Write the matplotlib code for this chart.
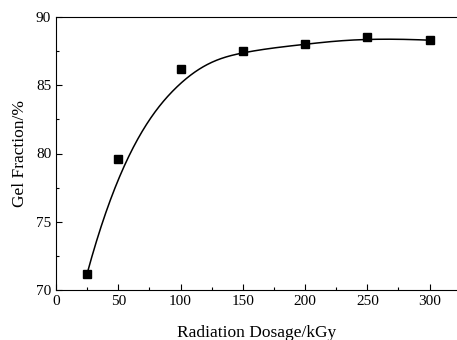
import numpy as np
import matplotlib
matplotlib.use("Agg")
import matplotlib.pyplot as plt
from matplotlib.ticker import MultipleLocator

dose = [25, 50, 100, 150, 200, 250, 300]
gel = [71.2, 79.6, 86.2, 87.5, 88.0, 88.5, 88.3]

plt.rcParams['font.family'] = ['Liberation Serif']
fig = plt.figure(figsize=(4.57, 3.4), dpi=100)
W, H = 457, 340
ax = fig.add_axes([56 / W, 1 - 290 / H, (457 - 56) / W, (290 - 17) / H])


def bspline(px, py, k=3, num=400):
    """Clamped uniform B-spline with the data points as control points."""
    P = np.column_stack([px, py]).astype(float)
    n = len(P)
    inner = np.arange(1, n - k)
    t = np.concatenate([np.zeros(k + 1), inner, np.full(k + 1, n - k)]).astype(float)
    us = np.linspace(0, n - k, num)
    out = []
    for u in us:
        # Cox-de Boor
        N = np.zeros(len(t) - 1)
        for i in range(len(t) - 1):
            if t[i] <= u < t[i + 1] or (u == t[-1] and t[i] < u <= t[i + 1]):
                N[i] = 1.0
        for d in range(1, k + 1):
            Nn = np.zeros(len(t) - 1 - d)
            for i in range(len(Nn)):
                a = 0.0
                if t[i + d] != t[i]:
                    a = (u - t[i]) / (t[i + d] - t[i]) * N[i]
                b = 0.0
                if t[i + d + 1] != t[i + 1]:
                    b = (t[i + d + 1] - u) / (t[i + d + 1] - t[i + 1]) * N[i + 1]
                Nn[i] = a + b
            N = Nn
        out.append(N[:n] @ P)
    out = np.array(out)
    return out[:, 0], out[:, 1]


cx, cy = bspline(dose, gel)
ax.plot(cx, cy, color='black', lw=1.1)
ax.plot(dose, gel, 's', color='black', ms=5.5)

ax.set_xlim(0, 322)
ax.set_ylim(70, 90)
ax.xaxis.set_major_locator(MultipleLocator(50))
ax.xaxis.set_minor_locator(MultipleLocator(25))
ax.yaxis.set_major_locator(MultipleLocator(5))
ax.yaxis.set_minor_locator(MultipleLocator(2.5))
ax.tick_params(which='both', direction='in', labelsize=11, top=False, right=False)
ax.tick_params(which='major', length=4, width=0.8)
ax.tick_params(which='minor', length=2, width=0.8)
ax.spines['right'].set_visible(False)
ax.set_xlabel('Radiation Dosage/kGy', fontsize=12.5, labelpad=12)
ax.set_ylabel('Gel Fraction/%', fontsize=12.5, labelpad=6)

fig.savefig('out.png', dpi=100)
